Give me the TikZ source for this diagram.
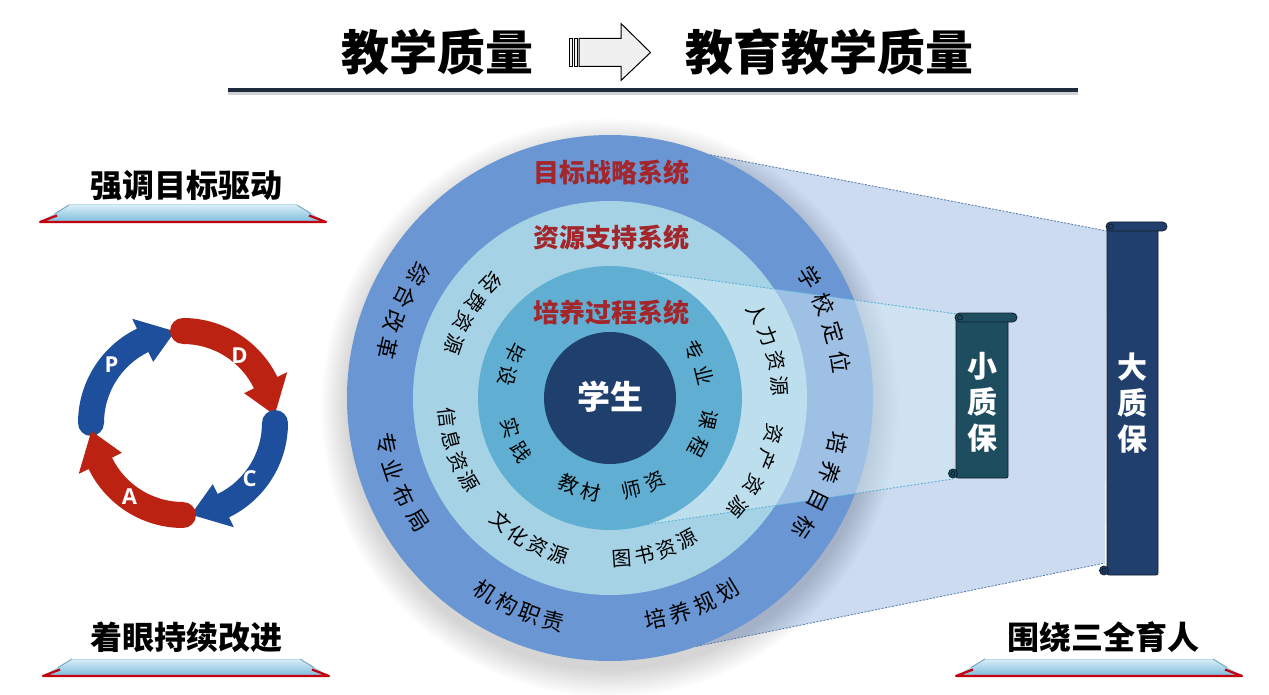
\documentclass[tikz,border=0pt]{standalone}
\usepackage{fontspec}
\newfontfamily\cjk{Noto Sans CJK SC}
\newfontfamily\lat{Open Sans}
\usetikzlibrary{calc}
\definecolor{ringA}{HTML}{6A97D3}
\definecolor{ringB}{HTML}{A6D2E6}
\definecolor{ringC}{HTML}{60AFD2}
\definecolor{core}{HTML}{1F3F6C}
\definecolor{sysred}{HTML}{A3262B}
\definecolor{bigproj}{HTML}{CCDBF0}
\definecolor{smallproj}{HTML}{D2EAF5}
\definecolor{pblue}{HTML}{1E4F9C}
\definecolor{pred}{HTML}{BC2211}
\definecolor{scrollA}{HTML}{1D4D5F}
\definecolor{scrollB}{HTML}{203F6C}
\definecolor{scrollline}{HTML}{0E1E2C}
\definecolor{rulecol}{HTML}{1E2B3C}
\definecolor{platred}{HTML}{C4000E}
\definecolor{platlight}{HTML}{D8EEF8}
\definecolor{platdark}{HTML}{7CBCDA}
\definecolor{bigdash}{HTML}{5B7DB0}
\definecolor{smalldash}{HTML}{5AB2D8}

\tikzset{
  titletext/.style={font=\cjk\bfseries\fontsize{48}{56}\selectfont, text=black, inner sep=0},
  sidetext/.style={font=\cjk\bfseries\fontsize{32}{38}\selectfont, text=black, inner sep=0},
  systext/.style={font=\cjk\bfseries\fontsize{26}{30}\selectfont, text=sysred, inner sep=0},
  coretext/.style={font=\cjk\bfseries\fontsize{33}{38}\selectfont, text=white, inner sep=0},
  outertext/.style={font=\cjk\fontsize{22}{24}\selectfont, text=black, inner sep=0},
  midtext/.style={font=\cjk\fontsize{20}{22}\selectfont, text=black, inner sep=0},
  innertext/.style={font=\cjk\fontsize{20}{22}\selectfont, text=black, inner sep=0},
  pdcaletter/.style={font=\lat\bfseries\fontsize{22}{24}\selectfont, text=white, inner sep=0},
  scrolltext/.style={font=\cjk\bfseries\fontsize{30}{36}\selectfont, text=white, align=center, inner sep=0},
  scrollstroke/.style={draw=scrollline, line width=0.8},
  bigdashed/.style={draw=bigdash, line width=0.9, dash pattern=on 2pt off 1.5pt},
  smalldashed/.style={draw=smalldash, line width=0.9, dash pattern=on 2pt off 1.5pt},
}

% #1 prefix, #2 mid angle, #3 radius, #4 step, #5 count, #6 rotation offset, #7 style, #8 chars
\newcommand{\arclabel}[8]{%
  \foreach \ch [count=\k] in {#8}{%
    \pgfmathsetmacro\ang{#2+(\k-(#5+1)/2)*(#4)}%
    \pgfmathsetmacro\rot{-\ang+(#6)}%
    \node[#7,rotate=\rot] (#1-\k) at ([shift={(\ang:#3)}]ctr) {\ch};
  }%
}

% #1 tail angle, #2 colour
\newcommand{\pdcaarrow}[2]{%
  \fill[#2] ([shift={(#1:105)}]pc) arc[start angle=#1, end angle=#1+64, radius=105]
    -- ([shift={(#1+64:116)}]pc) -- ([shift={(#1+85:92)}]pc) -- ([shift={(#1+64:68)}]pc)
    -- ([shift={(#1+64:79)}]pc) arc[start angle=#1+64, end angle=#1, radius=79]
    arc[start angle=#1+180, end angle=#1+360, radius=13] -- cycle;
}

% #1 L, #2 R, #3 T, #4 B, #5 colour
\newcommand{\scrollshape}[5]{%
  \fill[#5, scrollstroke, rounded corners=2] (#1,#3+5) rectangle (#2,#4);
  \fill[#5, scrollstroke, rounded corners=4.5] (#1-1,#3) rectangle (#2+9,#3+9);
  \draw[scrollstroke] (#1+4,#3+4.5) circle[radius=2.5];
  \fill[#5, scrollstroke] (#1-3,#4-4.5) circle[radius=4.5];
  \draw[scrollstroke] (#1-3,#4-4.5) circle[radius=2];
}

% #1 centre x, #2 top y
\newcommand{\platform}[2]{%
  \shade[top color=platlight, bottom color=platdark] (#1-114,#2) -- (#1+114,#2) -- (#1+143,#2+17) -- (#1-143,#2+17) -- cycle;
  \draw[draw=platdark!50!white, line width=1] (#1-114,#2) -- (#1+114,#2);
  \draw[draw=platdark!70!gray, line width=1] (#1-114,#2) -- (#1-128,#2+8.5) (#1+114,#2) -- (#1+128,#2+8.5);
  \draw[draw=platred, line width=2.2, line join=round] (#1-126,#2+10.5) -- (#1-143,#2+17) -- (#1+143,#2+17) -- (#1+126,#2+10.5);
}

\begin{document}
\begin{tikzpicture}[x=1pt,y=-1pt]
\useasboundingbox (0,0) rectangle (1269,695);
\fill[white] (0,0) rectangle (1269,695);

% ---------- title ----------
\node[titletext] (t1) at (437,52) {教学质量};
\node[titletext] (t2) at (829,52) {教育教学质量};
\fill[gray!70, opacity=0.5] (228,92) rectangle (1078,95);
\draw[rulecol, line width=3.5] (228,90) -- (1078,90);
\begin{scope}[draw=black, line width=1, fill=black!6]
  \filldraw (569,38.5) rectangle (572,66.5);
  \filldraw (574,38.5) rectangle (577,66.5);
  \filldraw (579,38.5) -- (621,38.5) -- (621,23.5) -- (650.5,52.5) -- (621,80.5) -- (621,66.5) -- (579,66.5) -- cycle;
\end{scope}

% ---------- side labels ----------
\node[sidetext] (lab1) at (186,186) {强调目标驱动};
\platform{183}{205}
\node[sidetext] (lab2) at (186,637) {着眼持续改进};
\platform{186}{659}
\node[sidetext] (lab3) at (1103,637) {围绕三全育人};
\platform{1099}{659}

% ---------- PDCA ----------
\coordinate (pc) at (183,423);
\pdcaarrow{180}{pblue}
\pdcaarrow{270}{pred}
\pdcaarrow{0}{pblue}
\pdcaarrow{90}{pred}
\node[pdcaletter] (pP) at ([shift={(219:92)}]pc) {P};
\node[pdcaletter] (pD) at ([shift={(310:88)}]pc) {D};
\node[pdcaletter] (pC) at ([shift={(40:87)}]pc) {C};
\node[pdcaletter] (pA) at ([shift={(126:91)}]pc) {A};

% ---------- circle geometry ----------
\coordinate (ctr) at (610,398);
\coordinate (A1) at ([shift={(-67.6:263)}]ctr);
\coordinate (B1) at ([shift={(70.8:263)}]ctr);
\coordinate (A2) at ([shift={(-73:132)}]ctr);
\coordinate (B2) at ([shift={(73.6:132)}]ctr);
\coordinate (S1) at (1107,231);
\coordinate (S2) at (1105,563);
\coordinate (S3) at (957,314);
\coordinate (S4) at (953,479);

% large projection
\fill[bigproj] (A1) -- (S1) -- (S2) -- (B1) -- (ctr) -- cycle;

% soft shadow
\foreach \s in {1,...,14}{
  \fill[black, opacity=0.012] ([shift={(0,10)}]ctr) circle[radius=261+\s*2];
}

% rings
\fill[ringA] (ctr) circle[radius=263];
\fill[ringB] (ctr) circle[radius=197];
\fill[ringC] (ctr) circle[radius=132];
\fill[core] (ctr) circle[radius=66];

% small projection overlay
\fill[smallproj, opacity=0.5] (A2) -- (S3) -- (S4) -- (B2) arc[start angle=73.6, end angle=-73, radius=132] -- cycle;

% dashed projection edges
\draw[bigdashed] (A1) -- (S1);
\draw[bigdashed] (B1) -- (S2);
\draw[smalldashed] (A2) -- (S3);
\draw[smalldashed] (B2) -- (S4);

% scrolls
\scrollshape{956}{1008}{313}{478}{scrollA}
\node[scrolltext] (small) at (982,402) {小\\质\\保};
\scrollshape{1107}{1158}{222}{575}{scrollB}
\node[scrolltext] (big) at (1132.5,403) {大\\质\\保};

% ---------- circle texts ----------
\node[systext] (sys1) at (611,173) {目标战略系统};
\node[systext] (sys2) at (611,238) {资源支持系统};
\node[systext] (sys3) at (611,313) {培养过程系统};
\node[coretext] (stu) at (610,397) {学生};

% outer ring
\arclabel{o1}{-20}{233}{7.5}{4}{-90}{outertext}{学,校,定,位}
\arclabel{o2}{22.5}{232}{7.5}{4}{-90}{outertext}{培,养,目,标}
\arclabel{o3}{68.5}{226}{-6.6}{4}{90}{outertext}{培,养,规,划}
\arclabel{o4}{113.5}{230}{-6.2}{4}{90}{outertext}{机,构,职,责}
\arclabel{o5}{158}{228}{-7}{4}{90}{outertext}{专,业,布,局}
\arclabel{o6}{202.8}{228}{-6.7}{4}{90}{outertext}{综,合,改,革}

% middle ring
\arclabel{m1}{211.5}{165}{-8.3}{4}{90}{midtext}{经,费,资,源}
\arclabel{m2}{-17}{170}{8.7}{4}{-90}{midtext}{人,力,资,源}
\arclabel{m3}{26.3}{168}{9.4}{4}{-90}{midtext}{资,产,资,源}
\arclabel{m4}{161.2}{164}{-7.9}{4}{90}{midtext}{信,息,资,源}
\arclabel{m5}{119.8}{165}{-7.8}{4}{90}{midtext}{文,化,资,源}
\arclabel{m6}{73.7}{161}{-8.1}{4}{90}{midtext}{图,书,资,源}

% inner ring
\arclabel{i1}{199}{105}{-13.3}{2}{90}{innertext}{毕,设}
\arclabel{i2}{-21.6}{97}{16}{2}{-90}{innertext}{专,业}
\arclabel{i3}{20.7}{101}{16}{2}{-90}{innertext}{课,程}
\arclabel{i4}{69.4}{94}{-15}{2}{90}{innertext}{师,资}
\arclabel{i5}{108.7}{96}{-14}{2}{90}{innertext}{教,材}
\arclabel{i6}{156.2}{104}{-14.7}{2}{90}{innertext}{实,践}

\end{tikzpicture}
\end{document}
